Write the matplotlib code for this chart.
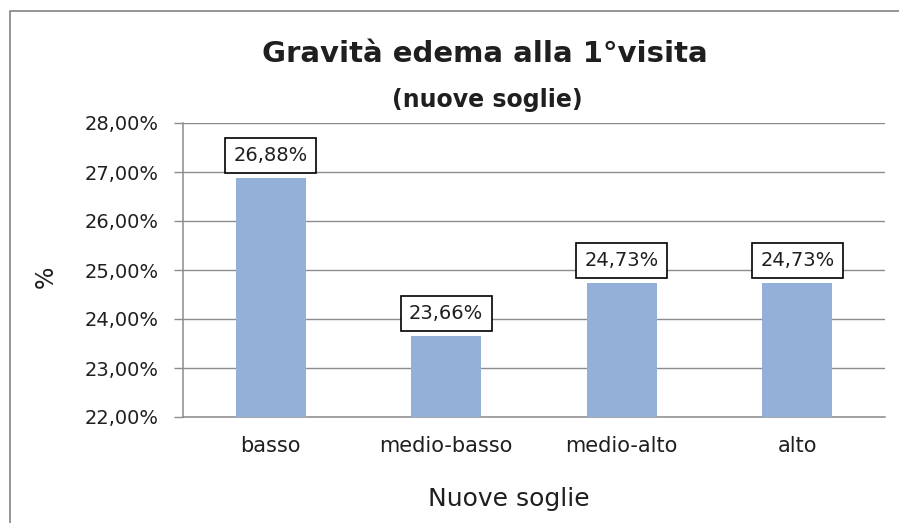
import numpy as np
import matplotlib.pyplot as plt
from matplotlib.lines import Line2D
from matplotlib.ticker import FuncFormatter

plt.rcParams['font.family'] = ['DejaVu Sans']

# Dati
categorie = ["basso", "medio-basso", "medio-alto", "alto"]
percentuali = [26.88, 23.66, 24.73, 24.73]
etichette = ["26,88%", "23,66%", "24,73%", "24,73%"]

W, H = 899, 523
fig = plt.figure(figsize=(W / 100, H / 100), dpi=100)
ax = fig.add_axes([183 / W, 1 - 417 / H, 702 / W, 294 / H])

# Cornice del grafico (lato sinistro e superiore)
fig.lines.append(Line2D([10 / W, 10 / W, 1.0], [0.0, 1 - 11 / H, 1 - 11 / H],
                        transform=fig.transFigure, color='#8c8c8c', linewidth=1.3))

testo = '#1f1f1f'
x = np.arange(len(categorie))
ax.bar(x, percentuali, width=0.4, color='#93B1D8', zorder=3)

for xi, v, t in zip(x, percentuali, etichette):
    ax.annotate(t, (xi, v), xytext=(0, 9.3), textcoords='offset points',
                ha='center', va='bottom', fontsize=14, color=testo, zorder=5,
                bbox=dict(boxstyle='square,pad=0.42', fc='white', ec='black', lw=1.2))

ax.set_xlim(-0.5, 3.5)
ax.set_ylim(22, 28)
ax.set_yticks(np.arange(22, 28.01, 1))
ax.yaxis.set_major_formatter(FuncFormatter(lambda v, p: f"{v:.2f}%".replace('.', ',')))
ax.set_xticks(x)
ax.set_xticklabels(categorie)

ax.grid(axis='y', color='#8c8c8c', linewidth=1.0, zorder=0)
ax.tick_params(axis='y', length=6.5, width=1, color='#8c8c8c', labelsize=14,
               labelcolor=testo, pad=11)
ax.tick_params(axis='x', length=0, labelsize=15, labelcolor=testo, pad=14)

for s in ['top', 'right']:
    ax.spines[s].set_visible(False)
for s in ['left', 'bottom']:
    ax.spines[s].set_color('#8c8c8c')
    ax.spines[s].set_linewidth(1.1)

ax.set_xlabel("Nuove soglie", fontsize=18, color=testo, va='center')
ax.xaxis.set_label_coords(0.464, -0.279)
ax.set_ylabel("%", fontsize=17, color=testo, va='center')
ax.yaxis.set_label_coords(-0.195, 0.476)

fig.text(485 / W, 1 - 62 / H, "Gravità edema alla 1°visita", ha='center',
         va='baseline', fontsize=21, fontweight='bold', color=testo)
fig.text(487 / W, 1 - 107 / H, "(nuove soglie)", ha='center', va='baseline',
         fontsize=17, fontweight='bold', color=testo)

fig.savefig("out.png", dpi=100)
